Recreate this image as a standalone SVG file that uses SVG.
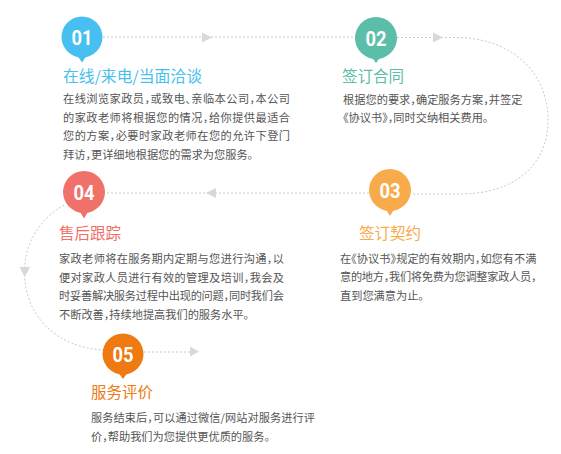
<svg xmlns="http://www.w3.org/2000/svg" width="561" height="454" viewBox="0 0 561 454">
<style>
.bg{fill:#ffffff}
.con{fill:none;stroke:#c9c9c9;stroke-width:1;stroke-dasharray:2 2}
.arr{fill:#d8d8d8}
.num{font-family:Roboto,"Liberation Sans",sans-serif;font-weight:bold;font-size:21px;fill:#ffffff;text-anchor:middle}
.ttl{font-family:"Noto Sans CJK SC","Noto Sans",sans-serif;font-size:15.5px}
.body{font-family:"Noto Sans CJK SC","Noto Sans",sans-serif;font-size:11.2px;fill:#555555;font-feature-settings:"halt"}
.c1{fill:#47bff0}.c2{fill:#5bbea9}.c3{fill:#f7ab4b}.c4{fill:#ef7169}.c5{fill:#ee7a11}
</style>
<rect class="bg" x="0" y="0" width="561" height="454"/>
<g id="connectors">
  <path class="con" d="M103 37 H355"/>
  <polygon class="arr" points="202,32.5 202,42.5 212,37.5"/>
  <path class="con" d="M397 37.5 H455 C515 37.5 548 75 548 120 C548 165 515 194 460 194 H412"/>
  <polygon class="arr" points="433,32.5 433,42.5 443,37.5"/>
  <path class="con" d="M369 193 H105"/>
  <polygon class="arr" points="216,188 216,198 206,193"/>
  <path class="con" d="M64 205 C38 220 24.5 245 24.5 272 C24.5 315 55 347 103 350"/>
  <polygon class="arr" points="19.5,267 30,267 24.7,277"/>
  <path class="con" d="M144 352 H190"/>
  <polygon class="arr" points="190,346.5 190,356.5 199,351.5"/>
</g>
<g id="node01">
  <circle class="c1" cx="82" cy="37" r="20.5"/>
  <polygon class="c1" points="77,55 87,55 82,62.5"/>
  <text class="num" x="82" y="44.5" textLength="21" lengthAdjust="spacingAndGlyphs">01</text>
  <text class="ttl c1" x="63" y="82" textLength="139" lengthAdjust="spacingAndGlyphs">在线/来电/当面洽谈</text>
  <text class="body" x="63" y="103">
    <tspan x="63" y="103" textLength="227" lengthAdjust="spacing">在线浏览家政员，或致电、亲临本公司，本公司</tspan>
    <tspan x="63" y="121.7" textLength="227" lengthAdjust="spacing">的家政老师将根据您的情况，给你提供最适合</tspan>
    <tspan x="63" y="140.4" textLength="227" lengthAdjust="spacing">您的方案，必要时家政老师在您的允许下登门</tspan>
    <tspan x="63" y="159">拜访，更详细地根据您的需求为您服务。</tspan>
  </text>
</g>
<g id="node02">
  <circle class="c2" cx="376" cy="38" r="21"/>
  <polygon class="c2" points="371,56 381,56 376,63"/>
  <text class="num" x="376" y="45.5" textLength="21" lengthAdjust="spacingAndGlyphs">02</text>
  <text class="ttl c2" x="342" y="82">签订合同</text>
  <text class="body" x="343" y="103.5">
    <tspan x="343" y="103.5" textLength="179.5" lengthAdjust="spacing">根据您的要求，确定服务方案，并签定</tspan>
    <tspan x="343" y="122.2">《协议书》，同时交纳相关费用。</tspan>
  </text>
</g>
<g id="node03">
  <circle class="c3" cx="390" cy="190" r="21"/>
  <polygon class="c3" points="385,208 395,208 390,216"/>
  <text class="num" x="390" y="197.5" textLength="21" lengthAdjust="spacingAndGlyphs">03</text>
  <text class="ttl c3" x="359" y="239">签订契约</text>
  <text class="body" x="340" y="263">
    <tspan x="340" y="263" textLength="196.5" lengthAdjust="spacing">在《协议书》规定的有效期内，如您有不满</tspan>
    <tspan x="340" y="281.3" textLength="196.5" lengthAdjust="spacing">意的地方，我们将免费为您调整家政人员，</tspan>
    <tspan x="340" y="299.5">直到您满意为止。</tspan>
  </text>
</g>
<g id="node04">
  <circle class="c4" cx="84" cy="192" r="21"/>
  <polygon class="c4" points="79,210 89,210 84,218.5"/>
  <text class="num" x="84" y="199.5" textLength="21" lengthAdjust="spacingAndGlyphs">04</text>
  <text class="ttl c4" x="59" y="239">售后跟踪</text>
  <text class="body" x="59" y="263">
    <tspan x="59" y="263" textLength="225" lengthAdjust="spacing">家政老师将在服务期内定期与您进行沟通，以</tspan>
    <tspan x="59" y="281.5" textLength="225" lengthAdjust="spacing">便对家政人员进行有效的管理及培训，我会及</tspan>
    <tspan x="59" y="300" textLength="225" lengthAdjust="spacing">时妥善解决服务过程中出现的问题，同时我们会</tspan>
    <tspan x="59" y="318.5">不断改善，持续地提高我们的服务水平。</tspan>
  </text>
</g>
<g id="node05">
  <circle class="c5" cx="123" cy="354" r="20.5"/>
  <polygon class="c5" points="118,372 128,372 123,379"/>
  <text class="num" x="123" y="361.5" textLength="21" lengthAdjust="spacingAndGlyphs">05</text>
  <text class="ttl c5" x="91" y="397.5">服务评价</text>
  <text class="body" x="91" y="422.3">
    <tspan x="91" y="422.3" textLength="224" lengthAdjust="spacing">服务结束后，可以通过微信/网站对服务进行评</tspan>
    <tspan x="91" y="441">价，帮助我们为您提供更优质的服务。</tspan>
  </text>
</g>
</svg>
